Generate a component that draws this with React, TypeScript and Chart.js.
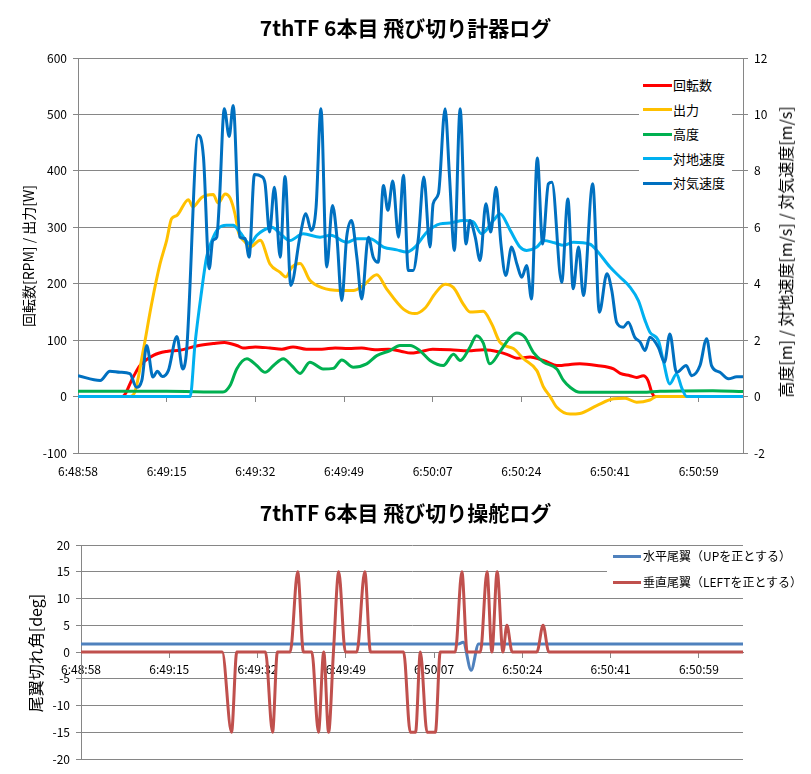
import React, { useEffect, useRef } from "react";
import { Chart, registerables } from "chart.js";

Chart.register(...registerables);

type Pt = [number, number];

// ---- shared x axis (sample index 0..150, a time label every 20 samples)
const timeLabels = ["6:48:58", "6:49:15", "6:49:32", "6:49:49", "6:50:07", "6:50:24", "6:50:41", "6:50:59"];
const labelEvery = 20;
const sampleMax = 150;

// ---- top chart: 計器ログ
const topTitle = "7thTF 6本目 飛び切り計器ログ";
const leftAxisTitle = "回転数[RPM] / 出力[W]";
const rightAxisTitle = "高度[m] / 対地速度[m/s] / 対気速度[m/s]";
const topNames = ["回転数", "出力", "高度", "対地速度", "対気速度"];
const topColors = ["#FF0000", "#FFC000", "#00B050", "#00B0F0", "#0070C0"];
const topAxes = ["y", "y", "y1", "y1", "y1"];

const rpm: Pt[] = [[0,0],[10,0],[12.4,34],[14,55],[17,73],[20,80],[23,82],[27,90],[30.5,94],[33,96],[36,90],[37.2,86],[40,88],[43.3,86],[46,84],[48.5,88],[51.5,84],[55,84],[58,86],[61,85],[64,86],[67,83],[70,84],[73,80],[75,77],[77,79],[80,84],[84,83],[88,81],[91.5,83],[95,79],[97,74],[99,68],[102,70],[104.2,66],[105.7,62],[108,55],[113.2,58],[117,55],[120.8,49],[122.3,41],[124.5,37],[126,34],[127.5,37],[128.6,28],[129.4,8],[130.2,0],[150,0]];

const power: Pt[] = [[0,0],[11.7,0],[12.9,10],[14.7,81],[16.6,164],[18.5,235],[20,277],[21.1,315],[22.3,321],[24.9,349],[25.9,336],[27.9,353],[30.5,358],[31.6,343],[33.2,359],[34.3,352],[35.4,324],[36.2,291],[37.7,274],[38.8,265],[41.1,277],[43.3,235],[45.6,220],[46.9,212],[48.2,229],[50.1,236],[52.3,206],[55,193],[59.1,188],[62.1,188],[64.4,197],[67.4,216],[69.6,191],[73.4,155],[76,147],[78.3,157],[80.5,182],[82.8,199],[84.7,193],[86.9,164],[88.4,150],[91.4,151],[93.3,129],[95.2,96],[98.2,85],[100.5,67],[103.5,46],[105,17],[106.5,0],[108,-19],[111,-31],[113.2,-30],[117,-16],[120.8,-4],[123.4,-3],[126,-10],[129,-6],[130.5,0],[150,0]];

const altitude: Pt[] = [[0,0.19],[20,0.19],[32.7,0.16],[34.3,0.39],[35.8,0.98],[38.1,1.34],[40.3,1.1],[42.2,0.86],[44.1,1.1],[46.3,1.34],[48.2,1.1],[50.1,0.82],[52.3,1.22],[55.3,0.98],[57.6,1.0],[59.5,1.3],[62.1,1.04],[65.1,1.16],[67.4,1.45],[70.4,1.63],[72.6,1.81],[74.9,1.81],[77.1,1.63],[79.4,1.28],[82.4,1.1],[84.7,1.5],[86.2,1.28],[88.4,1.75],[89.9,2.16],[91.4,1.9],[92.9,1.16],[95.2,1.6],[97.5,2.1],[99,2.25],[100.8,2.1],[102.7,1.57],[105,1.22],[108,0.98],[109.5,0.57],[111,0.33],[113.2,0.15],[127.4,0.15],[131.3,0.19],[143.2,0.21],[150,0.18]];

const groundSpeed: Pt[] = [[0,0],[25.3,0],[26.4,1.88],[27.9,3.76],[29,4.94],[30.2,5.53],[31.6,5.95],[33.5,6.07],[35,6.07],[36.5,5.83],[38.8,5.41],[40.3,5.71],[41.8,5.89],[43.7,6.0],[45.6,5.77],[47.8,5.53],[50.8,5.77],[54.6,5.65],[57,5.72],[60.6,5.47],[62.9,5.59],[65.9,5.59],[68.9,5.3],[71.9,5.2],[74.1,5.12],[76,5.3],[78.7,5.83],[81.7,6.12],[83.9,6.15],[86.9,6.24],[89.1,6.2],[91,5.77],[93.7,6.24],[95.2,6.48],[97.5,5.89],[99.7,5.3],[101.2,5.18],[103.5,5.3],[105,5.53],[107.5,5.45],[109.5,5.36],[111.7,5.47],[115.5,5.4],[117,5.18],[120,4.59],[122.3,4.23],[124.5,3.88],[126.4,3.4],[127.9,2.7],[129,2.28],[130.9,1.99],[132,1.28],[133.5,0.45],[135,0.8],[136.2,0.3],[137.3,0],[150,0]];

const airSpeed: Pt[] = [[0,0.74],[5,0.57],[7.2,0.9],[9.5,0.86],[11.7,0.81],[13.2,0.33],[14.4,0.57],[15.5,1.81],[16.9,0.69],[17.9,0.9],[19,0.71],[20.4,0.93],[22.3,2.13],[23.6,0.98],[24.5,1.63],[27.1,9.26],[28.3,8.49],[29.6,4.53],[30.4,5.53],[31.3,5.65],[31.9,6.95],[33,10.2],[34.1,9.22],[35,10.32],[36.5,5.65],[37.7,5.6],[38.6,4.94],[39.8,7.87],[41.4,7.8],[42.2,7.54],[43.2,5.83],[44.3,7.42],[45.6,4.94],[46.7,7.8],[48,3.94],[50.1,5.7],[51.4,6.48],[52.6,5.89],[53.7,6.71],[54.8,10.2],[56.1,4.59],[57.4,6.77],[58.4,5.65],[59.5,3.4],[60.6,5.65],[61.7,6.24],[62.9,4.94],[64,3.46],[65.5,5.65],[66.6,4.94],[67.7,4.76],[68.9,7.48],[69.9,6.6],[71,7.64],[72.3,5.65],[73.4,7.84],[74.5,4.47],[75.6,4.47],[76.8,5.65],[78,7.78],[79.4,5.3],[80.1,6.83],[81.3,7.19],[82.8,10.2],[83.8,7.8],[84.9,5.18],[86.2,10.2],[87.5,5.41],[88.4,6.24],[89.6,5.65],[90.7,4.82],[92,6.83],[93.1,5.83],[94.3,7.42],[95.4,5.41],[96.5,4.29],[97.8,5.3],[99,4.7],[100.1,4.23],[101.2,4.65],[102.3,3.46],[103.6,8.46],[104.8,5.41],[106.1,7.54],[106.9,7.6],[109.1,4.05],[110.5,7.0],[111.7,3.82],[112.9,5.3],[114,3.58],[116.1,7.54],[117.6,2.99],[119.3,4.35],[120.4,3.76],[121.5,2.63],[123,2.46],[124.1,2.63],[125.6,2.1],[126.8,1.93],[127.9,1.63],[129,2.1],[130.9,1.75],[132.3,1.22],[133.5,2.22],[135,0.86],[137.2,1.1],[138.4,0.74],[140.3,1.1],[141.8,2.05],[142.9,1.1],[144.8,0.86],[146.7,0.63],[148.6,0.7],[150,0.7]];

const topSeries = [rpm, power, altitude, groundSpeed, airSpeed];

// ---- bottom chart: 操舵ログ
const bottomTitle = "7thTF 6本目 飛び切り操舵ログ";
const bottomAxisTitle = "尾翼切れ角[deg]";
const bottomNames = ["水平尾翼（UPを正とする）", "垂直尾翼（LEFTを正とする）"];
const bottomColors = ["#4F81BD", "#C0504D"];

const elevator: Pt[] = [[0,1.5],[85.5,1.5],[86.6,1.8],[88.4,-3.4],[90.1,1.5],[150,1.5]];
const rudder: Pt[] = [[0,0],[32,0],[34.1,-15],[35.3,0],[41.8,0],[43.4,-15],[44.5,0],[47.4,0],[49.1,15],[50.4,0],[52.3,0],[53.8,-15],[55,0],[56.1,-15],[57.2,0],[58.4,15],[59.9,0],[62.5,0],[64.3,15],[65.6,0],[73.1,0],[74.6,-15],[75.8,-15],[76.9,0],[78.4,-15],[80.3,-15],[81.4,0],[84.8,0],[86.3,15],[87.5,0],[90.5,0],[92,15],[93.1,0],[94.3,15],[95.6,0],[96.5,5],[97.7,0],[103.3,0],[104.7,5],[106,0],[150,0]];

const bottomSeries = [elevator, rudder];

// ---- styling
const FONT = "'Noto Sans CJK JP', 'Noto Sans', sans-serif";
const GRID = "#868686";
const TICK_FONT = { family: FONT, size: 12 };

const toXY = (pts: Pt[]) => pts.map(([x, y]) => ({ x, y }));

const setTimeTicks = (scale: any) => {
  scale.ticks = timeLabels.map((_, k) => ({ value: k * labelEvery }));
};
const timeLabel = (v: any) => timeLabels[Math.round(Number(v) / labelEvery)] ?? "";

const baseOptions = {
  responsive: false,
  animation: false as const,
  events: [] as any[],
  plugins: { legend: { display: false }, tooltip: { enabled: false }, title: { display: false } },
};

const lineStyle = {
  borderWidth: 3,
  pointRadius: 0,
  cubicInterpolationMode: "monotone" as const,
  fill: false,
};

function topConfig(): any {
  return {
    type: "line",
    data: {
      datasets: topSeries.map((s, i) => ({
        ...lineStyle,
        label: topNames[i],
        data: toXY(s),
        borderColor: topColors[i],
        backgroundColor: topColors[i],
        xAxisID: "x",
        yAxisID: topAxes[i],
        order: topSeries.length - i,
      })),
    },
    options: {
      ...baseOptions,
      layout: { padding: { top: 58, left: 0, right: 0, bottom: 0 } },
      scales: {
        x: {
          type: "linear",
          position: "bottom",
          min: 0,
          max: sampleMax,
          afterBuildTicks: setTimeTicks,
          afterFit: (s: any) => { s.height = 37; },
          ticks: { callback: timeLabel, font: TICK_FONT, color: "#000", maxRotation: 0, autoSkip: false, padding: 11 },
          grid: { display: false, drawTicks: false },
          border: { display: false },
        },
        x2: {
          type: "linear",
          axis: "x",
          position: { y: 0 },
          min: 0,
          max: sampleMax,
          afterBuildTicks: setTimeTicks,
          afterFit: (s: any) => { s.height = 0; },
          ticks: { display: false },
          grid: { drawOnChartArea: false, drawTicks: true, tickLength: 5, color: GRID, lineWidth: 1 },
          border: { display: false },
        },
        y: {
          position: "left",
          min: -100,
          max: 600,
          afterFit: (s: any) => { s.width = 78; },
          ticks: { stepSize: 100, font: TICK_FONT, color: "#000", padding: 6 },
          grid: { color: GRID, tickLength: 5, lineWidth: 1 },
          border: { color: GRID },
        },
        y1: {
          position: "right",
          min: -2,
          max: 12,
          afterFit: (s: any) => { s.width = 68; },
          ticks: { stepSize: 2, font: TICK_FONT, color: "#000", padding: 6 },
          grid: { drawOnChartArea: false, color: GRID, tickLength: 5, lineWidth: 1 },
          border: { color: GRID },
        },
      },
    },
  };
}

function bottomConfig(): any {
  return {
    type: "line",
    data: {
      datasets: bottomSeries.map((s, i) => ({
        ...lineStyle,
        label: bottomNames[i],
        data: toXY(s),
        borderColor: bottomColors[i],
        backgroundColor: bottomColors[i],
        order: bottomSeries.length - i,
      })),
    },
    options: {
      ...baseOptions,
      layout: { padding: { top: 55, left: 0, right: 68, bottom: 15 } },
      scales: {
        x: {
          type: "linear",
          axis: "x",
          position: { y: 0 },
          min: 0,
          max: sampleMax,
          afterBuildTicks: setTimeTicks,
          afterFit: (s: any) => { s.height = 0; },
          ticks: { callback: timeLabel, font: TICK_FONT, color: "#000", maxRotation: 0, autoSkip: false, padding: 5 },
          grid: { drawOnChartArea: false, drawTicks: true, tickLength: 5, color: GRID, lineWidth: 1 },
          border: { color: GRID },
        },
        y: {
          position: "left",
          min: -20,
          max: 20,
          afterFit: (s: any) => { s.width = 81; },
          ticks: { stepSize: 5, font: TICK_FONT, color: "#000", padding: 6 },
          grid: { color: GRID, tickLength: 5, lineWidth: 1 },
          border: { color: GRID },
        },
      },
    },
  };
}

function useChart(ref: React.RefObject<HTMLCanvasElement | null>, make: () => any) {
  useEffect(() => {
    if (!ref.current) return;
    const chart = new Chart(ref.current, make());
    return () => chart.destroy();
  }, []);
}

function RotatedTitle({ text, cx, cy, size }: { text: string; cx: number; cy: number; size: number }) {
  return (
    <div
      style={{
        position: "absolute",
        left: cx,
        top: cy,
        transform: "translate(-50%, -50%) rotate(-90deg)",
        whiteSpace: "nowrap",
        fontSize: size,
        lineHeight: 1,
        color: "#000",
      }}
    >
      {text}
    </div>
  );
}

function LegendBox({
  names, colors, left, top, width, height, firstY, step, fontSize, lineX, lineW, textX,
}: {
  names: string[]; colors: string[]; left: number; top: number; width: number; height: number;
  firstY: number; step: number; fontSize: number; lineX: number; lineW: number; textX: number;
}) {
  return (
    <>
      <div style={{ position: "absolute", left, top, width, height, background: "#fff" }} />
      {names.map((n, i) => {
        const cy = firstY + i * step;
        return (
          <React.Fragment key={n}>
            <div style={{ position: "absolute", left: lineX, top: cy - 1.5, width: lineW, height: 3, background: colors[i] }} />
            <div
              style={{
                position: "absolute",
                left: textX,
                top: cy - 10,
                height: 20,
                lineHeight: "20px",
                fontSize,
                whiteSpace: "nowrap",
                color: "#000",
              }}
            >
              {n}
            </div>
          </React.Fragment>
        );
      })}
    </>
  );
}

export default function App() {
  const topRef = useRef<HTMLCanvasElement>(null);
  const botRef = useRef<HTMLCanvasElement>(null);
  useChart(topRef, topConfig);
  useChart(botRef, bottomConfig);

  const titleStyle: React.CSSProperties = {
    position: "absolute",
    left: 0,
    width: 811,
    textAlign: "center",
    fontWeight: 700,
    fontSize: 21,
    lineHeight: "30px",
    color: "#000",
    whiteSpace: "nowrap",
  };

  return (
    <div style={{ position: "absolute", left: 0, top: 0, width: 811, height: 774, background: "#fff", fontFamily: FONT, overflow: "hidden" }}>
      <canvas ref={topRef} width={811} height={490} style={{ position: "absolute", left: 0, top: 0, width: 811, height: 490 }} />
      <canvas ref={botRef} width={811} height={284} style={{ position: "absolute", left: 0, top: 490, width: 811, height: 284 }} />

      <div style={{ ...titleStyle, top: 12 }}>{topTitle}</div>
      <div style={{ ...titleStyle, top: 497 }}>{bottomTitle}</div>

      <RotatedTitle text={leftAxisTitle} cx={28} cy={256} size={14} />
      <RotatedTitle text={rightAxisTitle} cx={785} cy={252} size={16} />
      <RotatedTitle text={bottomAxisTitle} cx={35} cy={653} size={16} />

      <LegendBox
        names={topNames} colors={topColors}
        left={639} top={70} width={93} height={128}
        firstY={85} step={24.5} fontSize={13} lineX={643} lineW={29} textX={673}
      />
      <LegendBox
        names={bottomNames} colors={bottomColors}
        left={607} top={548} width={204} height={43}
        firstY={556} step={26} fontSize={12} lineX={613} lineW={28} textX={643}
      />
    </div>
  );
}
